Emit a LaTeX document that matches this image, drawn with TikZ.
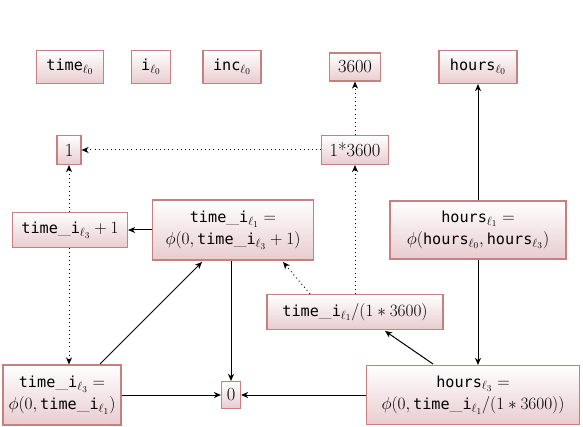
\documentclass[tikz,border=0pt]{standalone}
\usepackage{fontspec}
\setmonofont{DejaVu Sans Mono}[Scale=0.82]
\usetikzlibrary{arrows.meta}
\definecolor{boxline}{RGB}{198,128,128}
\definecolor{boxbot}{RGB}{232,204,207}
\newcommand{\mono}[1]{\mathtt{#1}}
\begin{document}
\begin{tikzpicture}[x=1pt,y=-1pt,
  box/.style={draw=boxline, line width=1.1pt, top color=white, bottom color=boxbot, inner sep=2pt, font=\fontsize{18.5}{22}\selectfont, align=center},
  dep/.style={-{Stealth[length=7pt,width=6pt,inset=2pt]}, line width=1pt},
  dot/.style={dep, dash pattern=on 0.9pt off 3.2pt}]
\useasboundingbox (0,0) rectangle (583,427);
\node[box, minimum height=33pt, minimum width=67pt] (time0) at (70,67) {$\mono{time}_{\ell_0}$};
\node[box, minimum height=33pt, minimum width=39pt] (i0) at (151,67) {$\mono{i}_{\ell_0}$};
\node[box, minimum height=33pt, minimum width=58pt] (inc0) at (232,67) {$\mono{inc}_{\ell_0}$};
\node[box, minimum height=28pt, minimum width=51pt] (c3600) at (355,67) {3600};
\node[box, minimum height=33pt, minimum width=78pt] (hours0) at (478,67) {$\mono{hours}_{\ell_0}$};
\node[box, minimum height=29pt, minimum width=24pt] (one) at (69,150) {1};
\node[box, minimum height=29pt, minimum width=67pt] (mul) at (355,150) {1*3600};
\node[box, minimum height=35pt, minimum width=115pt] (tip1) at (70,230) {$\mono{time\_i}_{\ell_3}+1$};
\node[box, minimum height=60pt, minimum width=161pt] (ti1) at (233,230) {$\mono{time\_i}_{\ell_1} =$\\$\phi(0,\mono{time\_i}_{\ell_3}+1)$};
\node[box, minimum height=58pt, minimum width=176pt] (h1) at (478,230) {$\mono{hours}_{\ell_1} =$\\$\phi(\mono{hours}_{\ell_0},\mono{hours}_{\ell_3})$};
\node[box, minimum height=35pt, minimum width=176pt] (div) at (355,312) {$\mono{time\_i}_{\ell_1}/(1*3600)$};
\node[box, minimum height=60pt, minimum width=118pt] (ti3) at (62,395) {$\mono{time\_i}_{\ell_3} =$\\$\phi(0,\mono{time\_i}_{\ell_1})$};
\node[box, minimum height=27pt, minimum width=19pt] (zero) at (231,395) {0};
\node[box, minimum height=59pt, minimum width=213pt] (h3) at (473,395) {$\mono{hours}_{\ell_3} =$\\$\phi(0,\mono{time\_i}_{\ell_1}/(1*3600))$};

\coordinate (a1) at (310,294);
\coordinate (a2) at (283,262);
\coordinate (b1) at (100,364);
\coordinate (b2) at (202,262);
\coordinate (c1) at (433,364);
\coordinate (c2) at (385,331);

\draw[dot] (mul) -- (c3600);
\draw[dot] (mul) -- (one);
\draw[dep] (h1.north -| hours0) -- (hours0);
\draw[dep] (ti1) -- (tip1);
\draw[dot] (tip1.north -| one) -- (one);
\draw[dot] (tip1.south -| one) -- (ti3.north -| one);
\draw[dot] (div.north -| mul) -- (mul);
\draw[dot] (a1) -- (a2);
\draw[dep] (b1) -- (b2);
\draw[dep] (ti1.south -| zero) -- (zero);
\draw[dep] (ti3) -- (zero);
\draw[dep] (h3) -- (zero);
\draw[dep] (c1) -- (c2);
\draw[dep] (h1.south) -- (h1.south |- h3.north);
\end{tikzpicture}
\end{document}
